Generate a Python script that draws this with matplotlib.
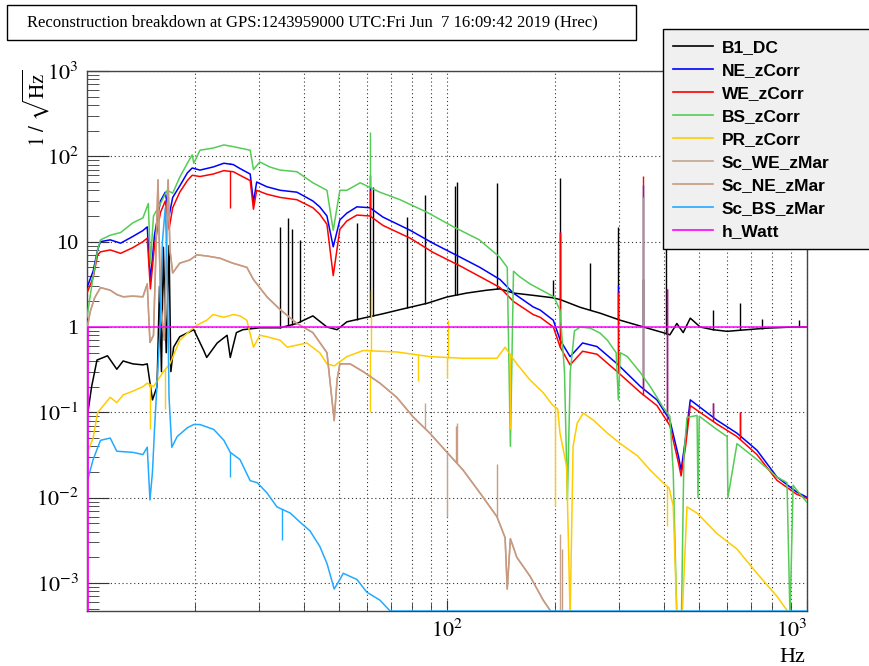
import numpy as np
import matplotlib
matplotlib.use("Agg")
import matplotlib.pyplot as plt
from matplotlib.lines import Line2D
from matplotlib.patches import Rectangle
from matplotlib.ticker import LogLocator, FixedLocator, FuncFormatter, NullFormatter

plt.rcParams["mathtext.fontset"] = "stix"
plt.rcParams["font.family"] = ["Liberation Serif", "DejaVu Serif"]

# ---- data (Hz, 1/sqrt(Hz)) ----
b1_f = [10.0, 10.3, 10.66, 11.4, 12.1, 12.6, 13.4, 14.3, 14.7, 15.2,
        15.65, 15.9, 16.1, 16.3, 16.6, 16.9, 17.1, 17.4, 18.1, 19.8,
        20.2, 21.1, 21.5, 23.0, 24.5, 25.0, 26.0, 27.1, 30.2, 34.4,
        38.3, 42.4, 46.4, 49.5, 52.7, 59.9, 66.4, 74.1, 88.2, 100,
        113.5, 129, 140, 153, 173.5, 197, 206, 234.5, 266.6, 303,
        338, 360.5, 398, 416, 435, 453, 474, 505, 548, 600,
        681, 773, 915, 1000]
b1_v = [0.085, 0.2, 0.41, 0.46, 0.32, 0.40, 0.37, 0.36, 0.37, 0.14,
        0.20, 3.0, 0.3, 8.6, 0.5, 9.0, 0.3, 0.58, 0.77, 0.93,
        0.78, 0.53, 0.44, 0.65, 0.80, 0.44, 0.86, 0.93, 0.98, 0.98,
        1.1, 1.35, 1.0, 0.93, 1.15, 1.3, 1.43, 1.6, 1.9, 2.25,
        2.5, 2.7, 2.8, 2.5, 2.35, 2.2, 2.1, 1.7, 1.45, 1.2,
        1.05, 0.97, 0.86, 0.81, 1.1, 0.86, 1.27, 1.0, 0.93, 0.89,
        0.93, 0.97, 1.0, 1.0]
b1_spike_f = [34.4, 36.1, 37.1, 39.0, 56.2, 61.1, 62.3, 77.4, 87.0, 105.5, 106.6,
              137.6, 197.4, 206.3, 249.9, 299.2, 351.4, 405.8, 548.4, 651.0, 749.5, 952.0]
b1_spike_v = [15.0, 19.0, 14.0, 10.5, 16.6, 60.0, 44.0, 19.4, 35.0, 45.0, 50.0,
              49.0, 3.6, 55.0, 5.6, 15.0, 3.7, 9.0, 1.6, 1.9, 1.25, 1.2]

zcorr_f = [10.0, 10.4, 10.7, 10.9, 11.6, 12.4, 13.4, 14.3, 14.7, 15.0,
           15.4, 16.0, 16.5, 16.9, 17.3, 18.1, 19.0, 19.6, 20.6, 22.4,
           24.0, 25.5, 26.6, 28.4, 29.0, 29.6, 31.6, 34.4, 38.3, 42.4,
           44.3, 46.4, 48.3, 50.4, 52.7, 56.2, 61.1, 66.4, 79.0, 91.4,
           108.7, 123.4, 140.4, 152.8, 173.5, 181.5, 197.4, 206.3, 219.8, 238,
           261, 297, 345, 383, 416, 440, 447, 460, 474, 562,
           639, 726, 825, 935, 1000]
ne_v = [2.9, 4.5, 8.0, 10.0, 10.5, 9.6, 11.5, 13.5, 14.9, 3.5,
        12.0, 30.0, 38.0, 20.0, 33.0, 45.0, 64.0, 73.0, 69.0, 75.0,
        83.0, 80.0, 72.0, 62.0, 29.0, 50.0, 44.0, 40.0, 38.0, 30.0,
        25.6, 20.0, 8.7, 18.0, 21.6, 25.6, 25.0, 19.4, 13.6, 9.6,
        6.6, 5.0, 3.6, 2.5, 1.72, 1.58, 1.2, 0.70, 0.45, 0.65,
        0.59, 0.37, 0.20, 0.14, 0.081, 0.03, 0.021, 0.05, 0.14, 0.081,
        0.057, 0.036, 0.0175, 0.0117, 0.0101]
we_v = [2.5, 3.8, 7.0, 7.6, 8.0, 7.3, 8.5, 10.0, 11.0, 2.8,
        9.0, 22.0, 30.0, 14.0, 25.0, 38.0, 52.0, 60.0, 58.0, 62.0,
        68.0, 66.0, 60.0, 52.0, 24.0, 40.0, 36.0, 33.0, 31.0, 25.0,
        21.0, 16.0, 4.0, 14.0, 17.5, 20.5, 20.0, 15.5, 11.0, 7.5,
        5.2, 3.9, 2.9, 2.0, 1.40, 1.30, 1.0, 0.58, 0.36, 0.52,
        0.48, 0.30, 0.17, 0.12, 0.07, 0.025, 0.018, 0.04, 0.12, 0.073,
        0.052, 0.032, 0.016, 0.011, 0.0098]
zcorr_spike_f = [24.9, 61.1, 206.3, 299.2, 351.4, 408.4, 548.4, 651.0]
ne_spike_v = [83.0, 45.0, 13.0, 3.1, 46.0, 2.8, 0.13, 0.10]
we_spike_v = [25.0, 40.0, 13.0, 2.6, 59.0, 2.8, 0.13, 0.10]

bs_f = [10.0, 10.4, 10.7, 10.9, 11.6, 12.4, 13.4, 14.3, 14.8, 15.0,
        15.3, 16.0, 16.7, 17.3, 18.1, 19.0, 19.6, 19.8, 20.6, 22.4,
        24.0, 25.5, 26.6, 28.4, 29.0, 30.2, 32.2, 34.4, 38.3, 42.4,
        46.4, 48.3, 50.4, 52.7, 57.4, 65.1, 74.1, 88.2, 104, 123,
        140, 147, 150, 153, 159, 170, 189.5, 198, 206, 212,
        216, 220, 226, 234.5, 250, 266, 279, 295, 299.2, 303,
        317, 345, 367, 383, 398, 416, 425, 435, 448, 455,
        464, 495, 498, 502, 562, 600, 603, 639, 726, 825,
        880, 897, 915, 935, 1000]
bs_v = [1.3, 3.9, 8.0, 10.5, 11.9, 12.8, 16.6, 19.0, 28.0, 5.6,
        20.0, 28.0, 40.0, 37.0, 57.0, 83.0, 104.0, 83.0, 118.0, 125.0,
        136.0, 130.0, 125.0, 118.0, 70.0, 86.0, 75.0, 69.0, 66.0, 49.0,
        40.0, 13.6, 40.0, 40.0, 49.0, 38.0, 31.0, 22.0, 15.0, 10.5,
        6.6, 5.0, 0.04, 4.5, 3.9, 3.2, 2.5, 2.26, 1.58, 0.3,
        0.0094, 0.3, 0.9, 1.0, 0.97, 0.85, 0.70, 0.5, 0.14, 0.5,
        0.45, 0.29, 0.20, 0.15, 0.115, 0.09, 0.02, 4e-4, 4e-4, 0.03,
        0.087, 0.092, 0.01, 0.09, 0.063, 0.052, 0.01, 0.043, 0.028, 0.0175,
        0.015, 4e-4, 0.014, 0.0124, 0.0088]
bs_spike_f = [61.1, 351.4]
bs_spike_v = [193.0, 33.0]

pr_f = [10.0, 10.4, 10.7, 11.6, 12.1, 12.6, 13.4, 14.3, 14.7, 15.3,
        16.3, 17.0, 18.1, 19.3, 20.2, 21.5, 22.4, 24.0, 25.5, 26.6,
        27.8, 29.0, 30.2, 31.6, 34.4, 36.0, 40.8, 44.3, 46.4, 48.6,
        52.7, 58.5, 72.5, 89.6, 111, 137.6, 145, 156.3, 170, 185,
        197, 203, 206, 215, 219.8, 224, 230, 239, 255, 279,
        303, 338, 367, 398, 414, 425, 435, 450, 464, 495,
        562, 639, 726, 825, 879, 890]
pr_v = [0.033, 0.05, 0.099, 0.15, 0.13, 0.16, 0.177, 0.20, 0.22, 0.20,
        0.30, 0.37, 0.70, 0.90, 1.05, 1.2, 1.4, 1.3, 1.4, 1.35,
        1.2, 0.58, 0.80, 0.77, 0.70, 0.58, 0.65, 0.50, 0.37, 0.35,
        0.45, 0.53, 0.51, 0.45, 0.43, 0.43, 0.58, 0.37, 0.24, 0.17,
        0.12, 0.11, 0.057, 0.023, 4e-4, 0.04, 0.075, 0.098, 0.081, 0.057,
        0.043, 0.031, 0.021, 0.015, 0.013, 0.008, 4e-4, 4e-4, 0.0078, 0.0066,
        0.0038, 0.0025, 0.0013, 7.0e-4, 4.8e-4, 4e-4]
pr_spike_f = [15.0, 16.5, 61.1, 61.5, 83.0, 100.0, 100.5, 150.0, 200.0, 408.4]
pr_spike_v = [0.063, 0.11, 0.10, 2.7, 0.23, 0.25, 1.2, 0.063, 0.008, 0.0046]

# Sc_WE_zMar and Sc_NE_zMar lie on top of each other
zmar_f = [10.0, 10.2, 10.5, 10.9, 11.6, 12.1, 12.6, 13.4, 14.3, 14.7,
          14.96, 15.3, 15.75, 16.0, 16.4, 16.8, 17.0, 17.3, 18.1, 19.3,
          20.2, 21.5, 23.4, 25.4, 27.8, 29.0, 31.6, 34.4, 38.3, 42.4,
          46.4, 48.6, 49.5, 50.4, 53.8, 58.5, 65.1, 72.5, 80.6, 89.6,
          100, 110.9, 123.4, 137.6, 145, 147, 150, 156.3, 170.1, 185,
          194, 197]
sc_we_v = [0.93, 1.5, 2.2, 2.9, 2.7, 2.4, 2.26, 2.3, 2.26, 3.2,
           0.66, 0.8, 53, 2.0, 0.7, 53, 8.0, 4.3, 5.6, 6.1,
           7.0, 6.8, 6.4, 5.6, 5.0, 3.6, 2.26, 1.6, 1.1, 0.86,
           0.5, 0.08, 0.24, 0.37, 0.37, 0.30, 0.22, 0.15, 0.088, 0.057,
           0.034, 0.021, 0.0114, 0.006, 0.0034, 8.5e-4, 0.0033, 0.002, 0.0012, 6.3e-4,
           4.7e-4, 4e-4]
sc_ne_v = [0.93, 1.5, 2.2, 2.9, 2.7, 2.4, 2.26, 2.3, 2.26, 3.2,
           0.66, 0.8, 53, 2.0, 0.7, 53, 8.0, 4.3, 5.6, 6.1,
           7.0, 6.8, 6.4, 5.6, 5.0, 3.6, 2.26, 1.6, 1.1, 0.86,
           0.5, 0.08, 0.24, 0.37, 0.37, 0.30, 0.22, 0.15, 0.088, 0.057,
           0.034, 0.021, 0.0114, 0.006, 0.0034, 8.5e-4, 0.0033, 0.002, 0.0012, 6.3e-4,
           4.7e-4, 4e-4]
sc_we_spike_f = [87.0, 100.0, 106.6, 206.3]
sc_we_spike_v = [0.13, 0.006, 0.075, 0.0038]
sc_ne_spike_f = [106.0, 137.6, 208.0]
sc_ne_spike_v = [0.07, 0.025, 0.0025]

scbs_f = [10.0, 10.4, 10.9, 11.6, 12.1, 13.4, 14.3, 14.7, 14.96, 15.2,
          15.4, 15.95, 16.2, 16.5, 16.7, 16.9, 17.2, 17.8, 19.0, 19.8,
          20.6, 22.5, 24.0, 25.0, 26.6, 28.4, 29.7, 31.6, 33.7, 36.7,
          39.0, 41.6, 44.3, 46.4, 48.6, 50.4, 51.5, 56.2, 59.9, 65.1,
          69.5, 1000]
scbs_v = [0.0152, 0.028, 0.047, 0.05, 0.035, 0.034, 0.032, 0.039, 0.0094, 0.02,
          0.063, 0.93, 10, 25, 5, 0.15, 0.039, 0.052, 0.066, 0.072,
          0.072, 0.063, 0.047, 0.034, 0.028, 0.0158, 0.015, 0.0114, 0.0078, 0.0066,
          0.0052, 0.0041, 0.0027, 0.0017, 8.5e-4, 0.0011, 0.0013, 0.0011, 7.8e-4, 6.3e-4,
          4.7e-4, 4.7e-4]
scbs_spike_f = [24.96, 34.9]
scbs_spike_v = [0.0175, 0.0032]

hw_f = [10.0, 1000.0]
hw_v = [1.0, 1.0]

y_decades = [1e-3, 1e-2, 1e-1, 1, 10, 100, 1000]
YMIN, YMAX = 4.7e-4, 1e3

series = [
    ("B1_DC", b1_f, b1_v, b1_spike_f, b1_spike_v, "black"),
    ("NE_zCorr", zcorr_f, ne_v, zcorr_spike_f, ne_spike_v, "#0000ff"),
    ("WE_zCorr", zcorr_f, we_v, zcorr_spike_f, we_spike_v, "#ff0000"),
    ("BS_zCorr", bs_f, bs_v, bs_spike_f, bs_spike_v, "#55cc55"),
    ("PR_zCorr", pr_f, pr_v, pr_spike_f, pr_spike_v, "#ffcc00"),
    ("Sc_WE_zMar", zmar_f, sc_we_v, sc_we_spike_f, sc_we_spike_v, "#c4a490"),
    ("Sc_NE_zMar", zmar_f, sc_ne_v, sc_ne_spike_f, sc_ne_spike_v, "#c89a80"),
    ("Sc_BS_zMar", scbs_f, scbs_v, scbs_spike_f, scbs_spike_v, "#22aaff"),
    ("h_Watt", hw_f, hw_v, [], [], "#ff00ff"),
]


def draw_spikes(ax, f, v, sf, sv, color, z):
    """narrow lines sitting on the curve (up or down)"""
    if not sf:
        return
    base = 10 ** np.interp(np.log10(sf), np.log10(f), np.log10(v))
    ax.vlines(sf, base, sv, color=color, lw=1.0, zorder=z)


def root_label(val, pos):
    e = int(round(np.log10(val)))
    if e == 0:
        return "1"
    if e == 1:
        return "10"
    return r"$10^{%d}$" % e


fig = plt.figure(figsize=(8.7, 6.66), dpi=100)
ax = fig.add_axes([87 / 870, 55 / 666, 720 / 870, 540 / 666])

for i, (name, f, v, sf, sv, c) in enumerate(series):
    ax.plot(f, v, color=c, lw=1.1, zorder=3 + i)
    draw_spikes(ax, f, v, sf, sv, c, 3 + i)

# h_Watt histogram edge at the left border
ax.vlines(hw_f[0], YMIN, hw_v[0], color="#ff00ff", lw=2, zorder=12)

ax.set_xscale("log")
ax.set_yscale("log")
ax.set_xlim(10, 1000)
ax.set_ylim(YMIN, YMAX)

ax.xaxis.set_major_locator(FixedLocator([10, 100, 1000]))
ax.xaxis.set_minor_locator(LogLocator(base=10, subs=np.arange(2, 10), numticks=20))
ax.xaxis.set_minor_formatter(NullFormatter())
ax.set_xticklabels(["", r"$10^{2}$", r"$10^{3}$"])
ax.get_xticklabels()[2].set_horizontalalignment("right")

ax.yaxis.set_major_locator(FixedLocator(y_decades))
ax.yaxis.set_minor_locator(LogLocator(base=10, subs=np.arange(2, 10), numticks=20))
ax.yaxis.set_major_formatter(FuncFormatter(root_label))
ax.yaxis.set_minor_formatter(NullFormatter())

ax.tick_params(axis="both", which="both", direction="in", top=False, right=False,
               labelsize=16, color="#333333")
ax.tick_params(axis="y", which="major", length=16, pad=6)
ax.tick_params(axis="y", which="minor", length=8.5)
ax.tick_params(axis="x", which="major", length=8, pad=6)
ax.tick_params(axis="x", which="minor", length=6)

grid_kw = dict(color="#333333", linestyle=(0, (1, 2.5)), linewidth=0.8)
ax.xaxis.grid(True, which="both", **grid_kw)
ax.yaxis.grid(True, which="major", **grid_kw)
ax.set_axisbelow(True)
for sp in ax.spines.values():
    sp.set_color("#444444")
    sp.set_linewidth(1.0)

# axis titles
fig.text(36 / 870, 1 - 108 / 666, r"$1\ /\ \sqrt{\mathrm{Hz}}$", rotation=90,
         ha="center", va="center", fontsize=15)
fig.text(792 / 870, 1 - 657 / 666, "Hz", ha="center", va="center", fontsize=16)

# title box
fig.patches.append(Rectangle((7 / 870, 1 - 40 / 666), 629 / 870, 35 / 666,
                             transform=fig.transFigure, facecolor="white",
                             edgecolor="black", lw=1.0, zorder=0))
fig.text(27 / 870, 1 - 22 / 666,
         "Reconstruction breakdown at GPS:1243959000 UTC:Fri Jun  7 16:09:42 2019 (Hrec)",
         ha="left", va="center", fontsize=12)

# legend
handles = [Line2D([], [], color=c, lw=1.2) for (_, _, _, _, _, c) in series]
labels = [s[0] for s in series]
leg = ax.legend(handles, labels, loc="upper left",
                bbox_to_anchor=(663 / 870, 1 - 36 / 666, 207 / 870, 0.01),
                bbox_transform=fig.transFigure, mode="expand",
                prop={"family": "Liberation Sans", "weight": "bold", "size": 12.5},
                frameon=True, fancybox=False, edgecolor="black", facecolor="#f0f0f0",
                framealpha=1, handlelength=2.3, handletextpad=0.5,
                labelspacing=0.45, borderaxespad=0, borderpad=0.6)
leg.get_frame().set_linewidth(1.0)
leg.set_zorder(20)

fig.savefig("out.png", dpi=100)
